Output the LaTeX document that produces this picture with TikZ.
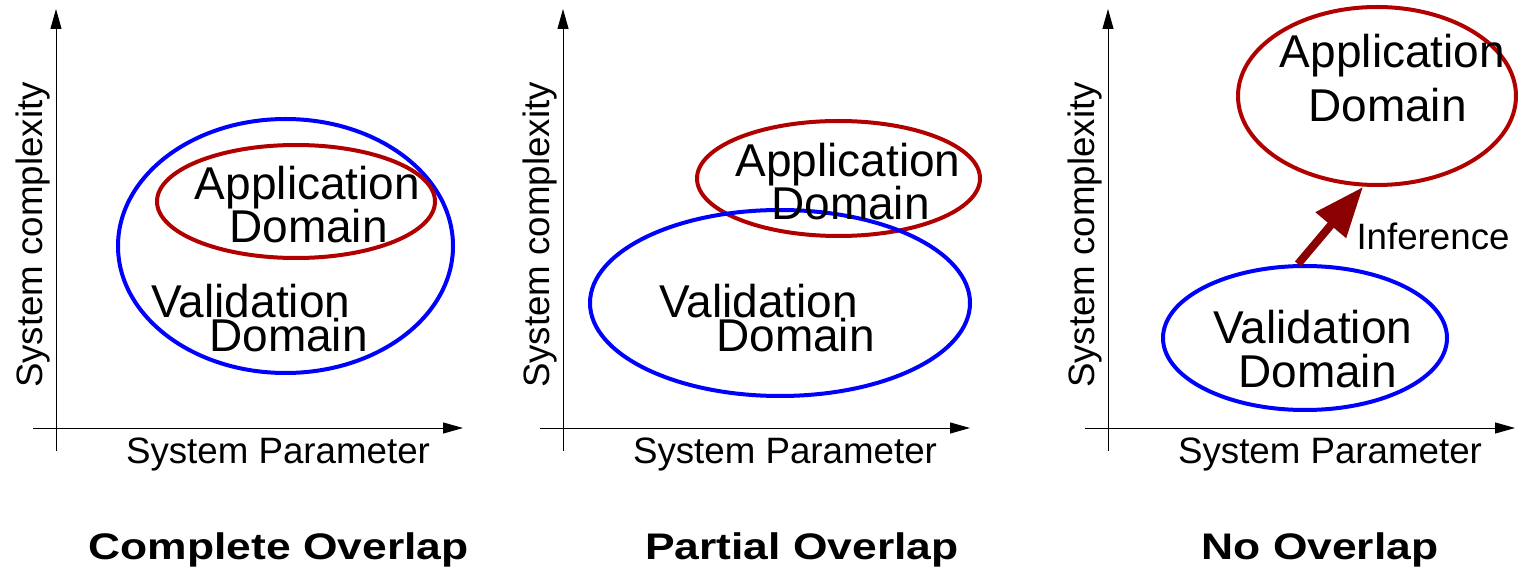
\documentclass[tikz,border=0pt]{standalone}
\usepackage{fontspec}
\setmainfont{Liberation Sans}
\usetikzlibrary{arrows.meta, shapes.geometric}
\definecolor{DOMBLUE}{HTML}{0000FF}
\definecolor{DOMRED}{HTML}{B00000}
\definecolor{INFRED}{HTML}{8B0000}
\newcommand{\ttlbox}[1]{\scalebox{1.2}[1]{#1}}

\begin{document}
\begin{tikzpicture}[x=1pt, y=-1pt,
          dom/.style={ellipse, draw, line width=4pt, inner sep=0pt},
          vdom/.style={dom, draw=DOMBLUE},
          adom/.style={dom, draw=DOMRED},
          txt/.style={anchor=base, inner sep=0pt, font=\fontsize{46}{46}\selectfont},
          axlbl/.style={anchor=base, inner sep=0pt, font=\fontsize{36.7}{37}\selectfont},
          ttl/.style={anchor=base, inner sep=0pt, font=\fontsize{37}{37}\selectfont\bfseries},
          axis/.style={-{Triangle[length=20pt,width=11pt]}, line width=1pt},
          infer/.style={-{Triangle[length=50pt,width=38pt]}, line width=8pt, INFRED}
        ]
          \useasboundingbox (0,0) rectangle (1518,577);
          % axes of the three panels
          \foreach \o/\n in {0/1, 507/2, 1052/3} {
            \draw[axis] (56+\o,451) -- (56+\o,9);
            \draw[axis] (33+\o,428) -- (463+\o,428);
            \node[axlbl, rotate=90] (cplx\n) at (42+\o,235) {System complexity};
            \node[axlbl] (param\n) at (278+\o,463) {System Parameter};
          }
          % complete overlap
          \node[vdom, minimum width=335pt, minimum height=254pt] (val1) at (285.5,246) {};
          \node[adom, minimum width=278pt, minimum height=113pt] (app1) at (296,201.5) {};
          \node[txt] (app1a) at (307.5,200) {Application};
          \node[txt] (app1b) at (308.5,243) {Domain};
          \node[txt] (val1a) at (251,318) {Validation};
          \node[txt] (val1b) at (288.5,352) {Domain};
          % partial overlap
          \node[adom, minimum width=283pt, minimum height=115pt] (app2) at (838.5,178.5) {};
          \node[vdom, minimum width=380pt, minimum height=186pt] (val2) at (780,303) {};
          \node[txt] (app2a) at (848,177) {Application};
          \node[txt] (app2b) at (850.5,220) {Domain};
          \node[txt] (val2a) at (758.5,318) {Validation};
          \node[txt] (val2b) at (795.5,352) {Domain};
          % no overlap
          \node[adom, minimum width=278pt, minimum height=178pt] (app3) at (1377,96) {};
          \node[vdom, minimum width=284pt, minimum height=144pt] (val3) at (1305,338) {};
          \node[txt] (app3a) at (1392.5,68) {Application};
          \node[txt] (app3b) at (1387.5,122) {Domain};
          \node[txt] (val3a) at (1313,343) {Validation};
          \node[txt] (val3b) at (1317.5,387) {Domain};
          \draw[infer] ([xshift=-7pt]val3.north) -- ([xshift=-14pt]app3.south);
          \node[axlbl] (infer3) at (1433,250) {Inference};
          % titles
          \node[ttl] (ttl1) at (278.5,559) {\ttlbox{Complete Overlap}};
          \node[ttl] (ttl2) at (802,559) {\ttlbox{Partial Overlap}};
          \node[ttl] (ttl3) at (1320,559) {\ttlbox{No Overlap}};
        \end{tikzpicture}
\end{document}
